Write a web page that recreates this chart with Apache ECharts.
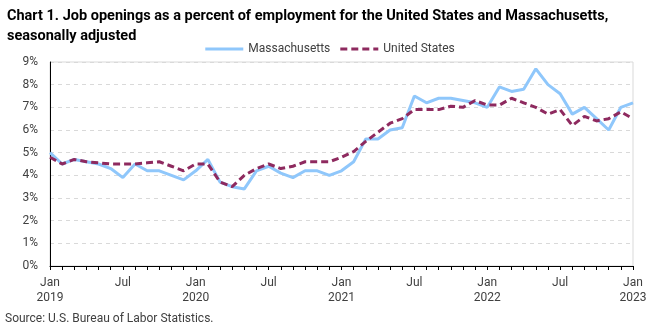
<!DOCTYPE html>
<html>
<head>
<meta charset="utf-8">
<script src="https://cdn.jsdelivr.net/npm/echarts@6/dist/echarts.min.js"></script>
<style>
html,body{margin:0;padding:0;background:#fff;}
#chart{width:660px;height:329px;}
</style>
</head>
<body>
<div id="chart"></div>
<script>
const monthNames = ['Jan','Feb','Mar','Apr','May','Jun','Jul','Aug','Sep','Oct','Nov','Dec'];
const years = [2019, 2020, 2021, 2022, 2023];
const yTicks = ['0%','1%','2%','3%','4%','5%','6%','7%','8%','9%'];

const massachusetts = [
  5.0, 4.5, 4.7, 4.6, 4.5, 4.3, 3.9, 4.5, 4.2, 4.2, 4.0, 3.8,
  4.2, 4.7, 3.7, 3.5, 3.4, 4.2, 4.4, 4.1, 3.9, 4.2, 4.2, 4.0,
  4.2, 4.6, 5.6, 5.6, 6.0, 6.1, 7.5, 7.2, 7.4, 7.4, 7.3, 7.2,
  7.0, 7.9, 7.7, 7.8, 8.7, 8.0, 7.6, 6.7, 7.0, 6.5, 6.0, 7.0,
  7.2
];
const unitedStates = [
  4.8, 4.5, 4.7, 4.6, 4.55, 4.5, 4.5, 4.5, 4.55, 4.6, 4.4, 4.2,
  4.5, 4.5, 3.7, 3.5, 4.0, 4.3, 4.5, 4.3, 4.4, 4.6, 4.6, 4.6,
  4.8, 5.05, 5.5, 5.9, 6.3, 6.5, 6.9, 6.9, 6.9, 7.05, 7.0, 7.3,
  7.1, 7.1, 7.4, 7.2, 7.0, 6.7, 6.9, 6.2, 6.6, 6.4, 6.5, 6.8,
  6.5
];

const categories = [];
years.forEach(y => monthNames.forEach(m => {
  if (categories.length < massachusetts.length) categories.push(m + ' ' + y);
}));

const MA_COLOR = '#8fc7fb';
const US_COLOR = '#8e2a5f';
const FONT = 'Roboto';
const chart = echarts.init(document.getElementById('chart'), null, {renderer:'canvas'});
chart.setOption({
  animation: false,
  backgroundColor: '#fff',
  textStyle: {fontFamily: FONT},
  title: {
    text: 'Chart 1. Job openings as a percent of employment for the United States and Massachusetts,\nseasonally adjusted',
    left: 2, top: 1,
    textStyle: {fontFamily: FONT, fontSize: 14.5, fontWeight: 'bold', color: '#000', lineHeight: 20}
  },
  legend: {
    top: 38, left: 'center',
    itemWidth: 38, itemHeight: 3, itemGap: 10,
    textStyle: {fontFamily: FONT, fontSize: 12, color: '#404040'},
    data: [
      {name: 'Massachusetts', icon: 'path://M0,0h38v3h-38z', itemStyle: {color: MA_COLOR}},
      {name: 'United States', icon: 'path://M0,0h7v3h-7zM11,0h7v3h-7zM22,0h7v3h-7zM33,0h5v3h-5z', itemStyle: {color: US_COLOR}}
    ]
  },
  grid: {
    left: 50, right: 27, top: 62, bottom: 63,
    show: true, borderColor: '#d9d9d9', borderWidth: 1
  },
  xAxis: {
    type: 'category',
    data: categories,
    boundaryGap: false,
    axisLine: {lineStyle: {color: '#000', width: 1}},
    axisTick: {show: true, interval: 0, length: 4, lineStyle: {color: '#000'}},
    axisLabel: {
      interval: (i) => i % 6 === 0,
      margin: 9,
      fontFamily: FONT, fontSize: 12, color: '#404040', lineHeight: 15,
      formatter: (v) => {
        const [m, y] = v.split(' ');
        return m === 'Jan' ? m + '\n' + y : m;
      }
    },
    splitLine: {show: false}
  },
  yAxis: {
    type: 'value', min: 0, max: 9, interval: 1,
    axisLine: {show: true, lineStyle: {color: '#000', width: 1}},
    axisTick: {show: false},
    axisLabel: {
      margin: 12, fontFamily: FONT, fontSize: 12, color: '#404040',
      formatter: (v) => yTicks[Math.round(v)]
    },
    splitLine: {show: true, lineStyle: {color: '#d9d9d9', type: [4, 4], width: 1}}
  },
  series: [
    {
      name: 'Massachusetts', type: 'line', data: massachusetts,
      symbol: 'none', smooth: false,
      lineStyle: {color: MA_COLOR, width: 3},
      itemStyle: {color: MA_COLOR}
    },
    {
      name: 'United States', type: 'line', data: unitedStates,
      symbol: 'none', smooth: false,
      lineStyle: {color: US_COLOR, width: 3, type: [7, 4]},
      itemStyle: {color: US_COLOR}
    }
  ],
  graphic: [{
    type: 'text', left: 5, top: 313,
    style: {text: 'Source: U.S. Bureau of Labor Statistics.', fontFamily: FONT, fontSize: 12, fill: '#404040'}
  }]
});
</script>
</body>
</html>
